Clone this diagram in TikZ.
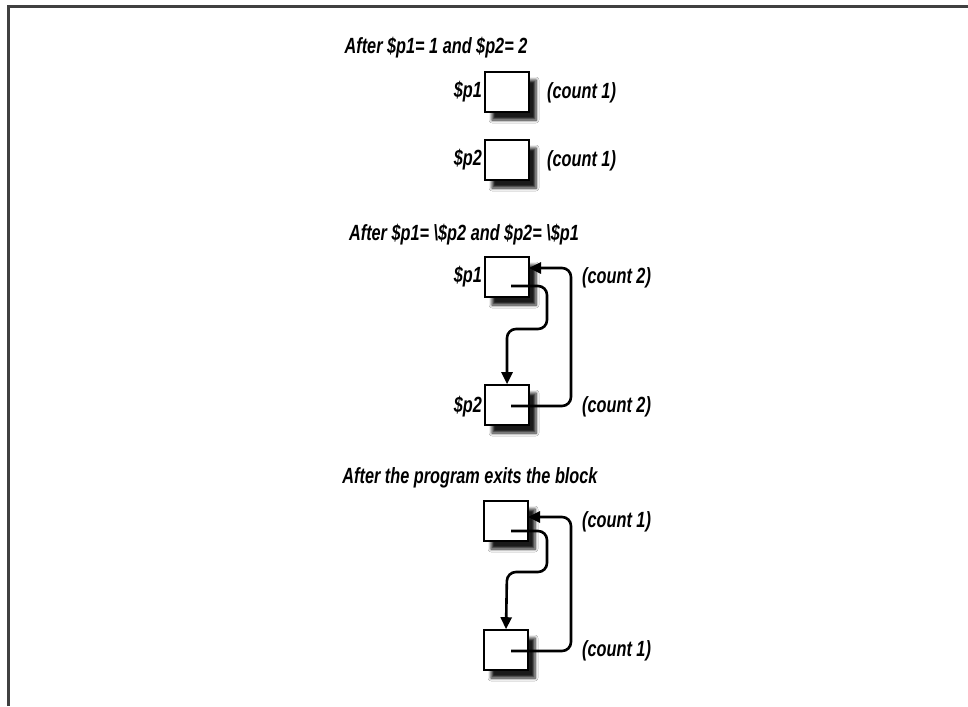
\documentclass[tikz,border=0pt]{standalone}
\usepackage{fontspec}
\newfontfamily\lbl{Liberation Sans}[FakeStretch=0.74]
\usetikzlibrary{arrows.meta,shadows.blur}
\begin{document}
\begin{tikzpicture}[x=1pt,y=-1pt,
  cell/.style={draw=black,line width=1.6pt,fill=white,minimum width=44pt,minimum height=40pt,inner sep=0pt,
    blur shadow={shadow xshift=7pt,shadow yshift=-8pt,shadow blur steps=6,shadow blur radius=3pt,shadow opacity=90}},
  txt/.style={font=\lbl\bfseries\itshape\fontsize{22}{26}\selectfont,inner sep=0pt},
  link/.style={line width=2.6pt,rounded corners=9pt,-{Triangle[length=12pt,width=11pt]}},
  frame/.style={line width=3pt,black!75}
]
\useasboundingbox (0,0) rectangle (968,706);
\fill[white] (0,0) rectangle (968,706);
\draw[frame] (8,706) -- (8,7) -- (968,7);

% Section 1
\node[txt] (t1) at (436,48) {After \$p1= 1 and \$p2= 2};
\node[cell] (b1a) at (507,92) {};
\node[cell] (b1b) at (507,160) {};
\node[txt,anchor=east] (l1a) at (482,92) {\$p1};
\node[txt,anchor=east] (l1b) at (482,160) {\$p2};
\node[txt,anchor=west] (c1a) at (547,93) {(count 1)};
\node[txt,anchor=west] (c1b) at (547,161) {(count 1)};

% Section 2
\node[txt] (t2) at (464,235) {After \$p1= \textbackslash\$p2 and \$p2= \textbackslash\$p1};
\node[cell] (b2a) at (507,277) {};
\node[cell] (b2b) at (507,405) {};
\node[txt,anchor=east] (l2a) at (482,277) {\$p1};
\node[txt,anchor=east] (l2b) at (482,407) {\$p2};
\node[txt,anchor=west] (c2a) at (582,278) {(count 2)};
\node[txt,anchor=west] (c2b) at (582,407) {(count 2)};
\coordinate (s2a) at (511,286);
\coordinate (s2b) at (511,406);
\coordinate (e2a) at (529,268);
\draw[link] (s2a) -- (547,286) -- (547,329) -- (507,329) -- (b2b.north);
\draw[link] (s2b) -- (571,406) -- (571,268) -- (e2a);

% Section 3
\node[txt] (t3) at (470,478) {After the program exits the block};
\node[cell] (b3a) at (506,521) {};
\node[cell] (b3b) at (506,650) {};
\node[txt,anchor=west] (c3a) at (582,522) {(count 1)};
\node[txt,anchor=west] (c3b) at (582,651) {(count 1)};
\coordinate (s3a) at (511,531);
\coordinate (s3b) at (511,651);
\coordinate (e3a) at (528,517);
\draw[link] (s3a) -- (547,531) -- (547,572) -- (507,572) -- (b3b.north);
\draw[link] (s3b) -- (571,651) -- (571,517) -- (e3a);
\end{tikzpicture}
\end{document}
